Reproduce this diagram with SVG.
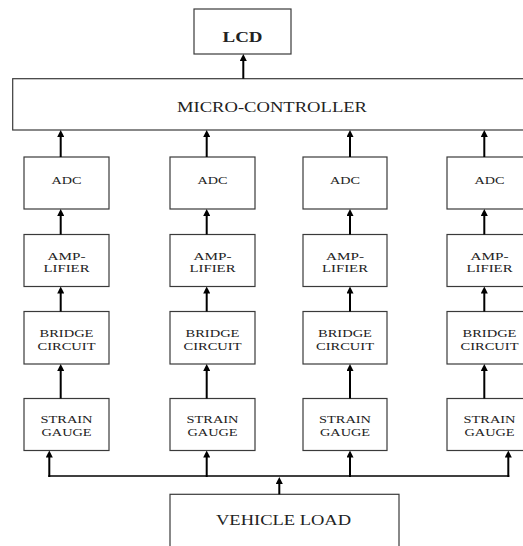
<svg xmlns="http://www.w3.org/2000/svg" width="523" height="546" viewBox="0 0 523 546">
<style>
  .box { fill: #ffffff; stroke: #3a3a3a; stroke-width: 1.2; }
  .t { font-family: "Liberation Serif", "Times New Roman", serif; font-size: 11.2px; fill: #222222; text-anchor: middle; }
  .big { font-size: 14.5px; }
  .bold { font-weight: bold; font-size: 15px; }
  .wire { fill: none; stroke: #000000; stroke-width: 1.6; }
  .arr { fill: none; stroke: #000000; stroke-width: 2; marker-end: url(#ah); }
</style>
<defs>
  <marker id="ah" viewBox="0 0 7 7" markerWidth="7" markerHeight="7" refX="4" refY="3.5" orient="auto" markerUnits="userSpaceOnUse">
    <path d="M0,0 L7,3.5 L0,7 z" fill="#000000"/>
  </marker>
</defs>
<rect width="523" height="546" fill="#ffffff"/>

<g id="lcd">
  <rect class="box" x="194" y="9" width="97" height="45"/>
  <text class="t bold" x="242.5" y="41.5" textLength="40" lengthAdjust="spacingAndGlyphs">LCD</text>
</g>
<g id="micro-controller">
  <rect class="box" x="12.7" y="78.7" width="530" height="51.3"/>
  <text class="t big" x="272" y="111.7" textLength="190" lengthAdjust="spacingAndGlyphs">MICRO-CONTROLLER</text>
</g>

<g id="adc1"><rect class="box" x="24" y="157" width="85" height="52"/><text class="t" x="66.5" y="184" textLength="30" lengthAdjust="spacingAndGlyphs">ADC</text></g>
<g id="adc2"><rect class="box" x="170" y="157" width="85" height="52"/><text class="t" x="212.5" y="184" textLength="30" lengthAdjust="spacingAndGlyphs">ADC</text></g>
<g id="adc3"><rect class="box" x="303" y="157" width="84" height="52"/><text class="t" x="345" y="184" textLength="30" lengthAdjust="spacingAndGlyphs">ADC</text></g>
<g id="adc4"><rect class="box" x="447" y="157" width="85" height="52"/><text class="t" x="489.5" y="184" textLength="30" lengthAdjust="spacingAndGlyphs">ADC</text></g>

<g id="amp1"><rect class="box" x="24" y="234.5" width="85" height="52"/><text class="t" x="66.5" y="259.5" textLength="38" lengthAdjust="spacingAndGlyphs">AMP-</text><text class="t" x="66.5" y="272" textLength="46" lengthAdjust="spacingAndGlyphs">LIFIER</text></g>
<g id="amp2"><rect class="box" x="170" y="234.5" width="85" height="52"/><text class="t" x="212.5" y="259.5" textLength="38" lengthAdjust="spacingAndGlyphs">AMP-</text><text class="t" x="212.5" y="272" textLength="46" lengthAdjust="spacingAndGlyphs">LIFIER</text></g>
<g id="amp3"><rect class="box" x="303" y="234.5" width="84" height="52"/><text class="t" x="345" y="259.5" textLength="38" lengthAdjust="spacingAndGlyphs">AMP-</text><text class="t" x="345" y="272" textLength="46" lengthAdjust="spacingAndGlyphs">LIFIER</text></g>
<g id="amp4"><rect class="box" x="447" y="234.5" width="85" height="52"/><text class="t" x="489.5" y="259.5" textLength="38" lengthAdjust="spacingAndGlyphs">AMP-</text><text class="t" x="489.5" y="272" textLength="46" lengthAdjust="spacingAndGlyphs">LIFIER</text></g>

<g id="bridge1"><rect class="box" x="24" y="311.5" width="85" height="52.5"/><text class="t" x="66.5" y="337" textLength="54" lengthAdjust="spacingAndGlyphs">BRIDGE</text><text class="t" x="66.5" y="349.5" textLength="58" lengthAdjust="spacingAndGlyphs">CIRCUIT</text></g>
<g id="bridge2"><rect class="box" x="170" y="311.5" width="85" height="52.5"/><text class="t" x="212.5" y="337" textLength="54" lengthAdjust="spacingAndGlyphs">BRIDGE</text><text class="t" x="212.5" y="349.5" textLength="58" lengthAdjust="spacingAndGlyphs">CIRCUIT</text></g>
<g id="bridge3"><rect class="box" x="303" y="311.5" width="84" height="52.5"/><text class="t" x="345" y="337" textLength="54" lengthAdjust="spacingAndGlyphs">BRIDGE</text><text class="t" x="345" y="349.5" textLength="58" lengthAdjust="spacingAndGlyphs">CIRCUIT</text></g>
<g id="bridge4"><rect class="box" x="447" y="311.5" width="85" height="52.5"/><text class="t" x="489.5" y="337" textLength="54" lengthAdjust="spacingAndGlyphs">BRIDGE</text><text class="t" x="489.5" y="349.5" textLength="58" lengthAdjust="spacingAndGlyphs">CIRCUIT</text></g>

<g id="strain1"><rect class="box" x="24" y="398.5" width="85" height="52"/><text class="t" x="66.5" y="423" textLength="52" lengthAdjust="spacingAndGlyphs">STRAIN</text><text class="t" x="66.5" y="435.5" textLength="50" lengthAdjust="spacingAndGlyphs">GAUGE</text></g>
<g id="strain2"><rect class="box" x="170" y="398.5" width="85" height="52"/><text class="t" x="212.5" y="423" textLength="52" lengthAdjust="spacingAndGlyphs">STRAIN</text><text class="t" x="212.5" y="435.5" textLength="50" lengthAdjust="spacingAndGlyphs">GAUGE</text></g>
<g id="strain3"><rect class="box" x="303" y="398.5" width="84" height="52"/><text class="t" x="345" y="423" textLength="52" lengthAdjust="spacingAndGlyphs">STRAIN</text><text class="t" x="345" y="435.5" textLength="50" lengthAdjust="spacingAndGlyphs">GAUGE</text></g>
<g id="strain4"><rect class="box" x="447" y="398.5" width="85" height="52"/><text class="t" x="489.5" y="423" textLength="52" lengthAdjust="spacingAndGlyphs">STRAIN</text><text class="t" x="489.5" y="435.5" textLength="50" lengthAdjust="spacingAndGlyphs">GAUGE</text></g>

<g id="vehicle-load">
  <rect class="box" x="170" y="494.3" width="229" height="60"/>
  <text class="t" style="font-size:15px" x="283.5" y="524.5" textLength="135" lengthAdjust="spacingAndGlyphs">VEHICLE LOAD</text>
</g>

<g id="connectors">
  <line class="arr" x1="243.3" y1="78.7" x2="243.3" y2="57"/>
  <line class="arr" x1="60.7" y1="157" x2="60.7" y2="133"/>
  <line class="arr" x1="206.7" y1="157" x2="206.7" y2="133"/>
  <line class="arr" x1="350" y1="157" x2="350" y2="133"/>
  <line class="arr" x1="484.3" y1="157" x2="484.3" y2="133"/>
  <line class="arr" x1="60.7" y1="234.5" x2="60.7" y2="212"/>
  <line class="arr" x1="206.7" y1="234.5" x2="206.7" y2="212"/>
  <line class="arr" x1="350" y1="234.5" x2="350" y2="212"/>
  <line class="arr" x1="484.3" y1="234.5" x2="484.3" y2="212"/>
  <line class="arr" x1="60.7" y1="311.5" x2="60.7" y2="289.5"/>
  <line class="arr" x1="206.7" y1="311.5" x2="206.7" y2="289.5"/>
  <line class="arr" x1="350" y1="311.5" x2="350" y2="289.5"/>
  <line class="arr" x1="484.3" y1="311.5" x2="484.3" y2="289.5"/>
  <line class="arr" x1="60.7" y1="398.5" x2="60.7" y2="367"/>
  <line class="arr" x1="206.7" y1="398.5" x2="206.7" y2="367"/>
  <line class="arr" x1="350" y1="398.5" x2="350" y2="367"/>
  <line class="arr" x1="484.3" y1="398.5" x2="484.3" y2="367"/>
  <line class="wire" x1="48.3" y1="476" x2="509.3" y2="476"/>
  <line class="arr" x1="49.3" y1="477" x2="49.3" y2="453.5"/>
  <line class="arr" x1="206.7" y1="477" x2="206.7" y2="453.5"/>
  <line class="arr" x1="350" y1="477" x2="350" y2="453.5"/>
  <line class="arr" x1="508.3" y1="477" x2="508.3" y2="453.5"/>
  <line class="arr" x1="279.3" y1="494.3" x2="279.3" y2="480"/>
</g>
</svg>
